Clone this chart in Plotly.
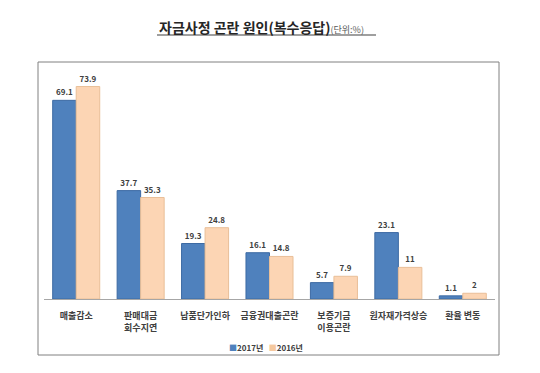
import plotly.graph_objects as go

categories = ["매출감소", "판매대금<br>회수지연", "납품단가인하", "금융권대출곤란",
              "보증기금<br>이용곤란", "원자재가격상승", "환율 변동"]
values_2017 = [69.1, 37.7, 19.3, 16.1, 5.7, 23.1, 1.1]
values_2016 = [73.9, 35.3, 24.8, 14.8, 7.9, 11, 2]
labels_2017 = ["69.1", "37.7", "19.3", "16.1", "5.7", "23.1", "1.1"]
labels_2016 = ["73.9", "35.3", "24.8", "14.8", "7.9", "11", "2"]
series_names = ["2017년", "2016년"]

FONT = "Noto Sans CJK KR"
BLUE, BLUE_LINE = "#4f81bd", "#3d6aa3"
PEACH, PEACH_LINE = "#fcd5b4", "#e9bf98"

# page has an 8px body margin; work in page pixels and subtract it
OFF = 8
W, H = 540 - 2 * OFF, 373 - 2 * OFF
L, R, T, B = 44 - OFF, 495 - OFF, 69 - OFF, 299 - OFF
pw, ph = R - L, B - T

def px_x(x):
    return (x - OFF - L) / pw

def px_y(y):
    return (B - (y - OFF)) / ph

fig = go.Figure()
fig.add_trace(go.Bar(
    x=categories, y=values_2017, name=series_names[0], showlegend=False,
    marker=dict(color=BLUE, line=dict(color=BLUE_LINE, width=1)),
    text=labels_2017, textposition="outside", cliponaxis=False,
    textfont=dict(size=8, color="#404040", family=FONT, weight="bold"),
))
fig.add_trace(go.Bar(
    x=categories, y=values_2016, name=series_names[1], showlegend=False,
    marker=dict(color=PEACH, line=dict(color=PEACH_LINE, width=1)),
    text=labels_2016, textposition="outside", cliponaxis=False,
    textfont=dict(size=8, color="#404040", family=FONT, weight="bold"),
))

legend_text = (f"<span style='color:{BLUE}'>■</span>{series_names[0]}"
               f"   <span style='color:#f5c89e'>■</span>{series_names[1]}")

fig.update_layout(
    width=W, height=H,
    margin=dict(l=L, r=W - R, t=T, b=H - B, autoexpand=False),
    paper_bgcolor="white", plot_bgcolor="white",
    font=dict(family=FONT, color="#404040"),
    barmode="group", bargap=0.27, bargroupgap=0,
    showlegend=False,
    xaxis=dict(showline=True, linecolor="#a6a6a6", linewidth=1, ticks="",
               tickfont=dict(size=9, color="#404040", family=FONT, weight="bold"),
               ticklabelstandoff=8, showgrid=False, automargin=False),
    yaxis=dict(range=[0, 80], visible=False, showgrid=False, zeroline=False),
    shapes=[
        dict(type="rect", xref="paper", yref="paper",
             x0=px_x(38), x1=px_x(499), y0=px_y(355), y1=px_y(62),
             line=dict(color="#808080", width=1), fillcolor="rgba(0,0,0,0)", layer="below"),
        dict(type="line", xref="paper", yref="paper",
             x0=px_x(157), x1=px_x(376), y0=px_y(35), y1=px_y(35),
             line=dict(color="#404040", width=1.2)),
    ],
    annotations=[
        dict(xref="paper", yref="paper", x=px_x(157), y=px_y(27), xanchor="left", yanchor="middle",
             showarrow=False,
             text="<b>자금사정 곤란 원인(복수응답)</b><span style='font-size:9px;color:#595959'>(단위:%)</span>",
             font=dict(size=14, color="#262626", family=FONT)),
        dict(xref="paper", yref="paper", x=px_x(266), y=px_y(347), xanchor="center", yanchor="middle",
             showarrow=False, text=legend_text,
             font=dict(size=8, color="#404040", family=FONT, weight="bold")),
    ],
)

fig.write_html("out.html")
